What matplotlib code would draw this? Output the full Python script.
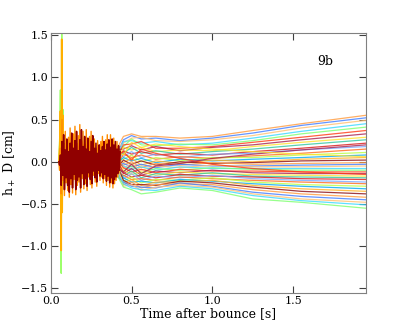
import numpy as np
import matplotlib
matplotlib.use("Agg")
import matplotlib.pyplot as plt

# ---- data ----
# early post-bounce burst: alternating upper / lower excursions (cm)
burst_t = np.arange(0.05, 0.4301, 0.005)
burst_hi = [0.00, 0.08, 0.24, 0.32, 0.14, 0.27, 0.12, 0.22, 0.34, 0.16, 0.25, 0.36,
            0.13, 0.26, 0.38, 0.18, 0.30, 0.15, 0.28, 0.12, 0.24, 0.31, 0.16, 0.22,
            0.10, 0.20, 0.13, 0.18, 0.24, 0.14, 0.21, 0.26, 0.17, 0.27, 0.20, 0.24,
            0.15, 0.19, 0.12]
burst_lo = [-0.04, -0.28, -0.16, -0.33, -0.19, -0.28, -0.36, -0.20, -0.31, -0.15,
            -0.33, -0.22, -0.18, -0.31, -0.14, -0.27, -0.20, -0.29, -0.13, -0.21,
            -0.26, -0.11, -0.19, -0.24, -0.10, -0.17, -0.13, -0.20, -0.15, -0.23,
            -0.17, -0.25, -0.19, -0.26, -0.21, -0.18, -0.14, -0.10]
burst2_hi = [0.00, 0.16, 0.50, 0.22, 0.36, 0.18, 0.29, 0.40, 0.21, 0.33, 0.42, 0.22,
             0.31, 0.44, 0.25, 0.36, 0.21, 0.38, 0.19, 0.30, 0.36, 0.22, 0.27, 0.16,
             0.25, 0.18, 0.24, 0.30, 0.19, 0.26, 0.32, 0.22, 0.32, 0.25, 0.28, 0.20,
             0.24, 0.16, 0.10]
burst2_lo = [-0.10, -0.38, -0.22, -0.40, -0.25, -0.34, -0.42, -0.27, -0.37, -0.21,
             -0.39, -0.28, -0.24, -0.36, -0.20, -0.32, -0.26, -0.34, -0.18, -0.27,
             -0.31, -0.16, -0.24, -0.29, -0.14, -0.22, -0.18, -0.25, -0.20, -0.28,
             -0.22, -0.30, -0.25, -0.31, -0.26, -0.22, -0.18, -0.12]

# the big spike right after bounce
spike_t = [0.050, 0.056, 0.060, 0.063, 0.065, 0.068, 0.071, 0.075, 0.080, 0.086]
spike_green = [0.00, 0.30, 0.85, -0.45, -1.32, 1.53, -0.35, 0.62, -0.25, 0.00]
spike_orange = [0.00, 0.20, 0.60, -0.30, -1.05, 1.45, -0.60, 0.55, -0.15, 0.00]

# later, slowly diverging signals (one row per model)
late_t = [0.32, 0.36, 0.40, 0.45, 0.50, 0.56, 0.65, 0.80, 1.00, 1.25, 1.55, 1.95]
late_h = [
    [0.10, 0.18, 0.12, 0.30, 0.33, 0.30, 0.30, 0.28, 0.30, 0.37, 0.45, 0.55],
    [-0.05, 0.14, 0.05, 0.26, 0.31, 0.27, 0.28, 0.25, 0.28, 0.34, 0.43, 0.52],
    [0.08, 0.04, 0.15, 0.22, 0.28, 0.29, 0.25, 0.24, 0.26, 0.31, 0.40, 0.49],
    [0.12, 0.20, -0.02, 0.24, 0.25, 0.22, 0.24, 0.20, 0.22, 0.28, 0.36, 0.45],
    [-0.10, 0.06, 0.10, 0.18, 0.27, 0.20, 0.19, 0.21, 0.20, 0.25, 0.33, 0.41],
    [0.04, 0.15, 0.02, 0.20, 0.21, 0.24, 0.16, 0.16, 0.18, 0.23, 0.29, 0.37],
    [0.14, -0.02, 0.14, 0.15, 0.19, 0.14, 0.18, 0.13, 0.17, 0.20, 0.26, 0.33],
    [-0.06, 0.10, -0.05, 0.17, 0.14, 0.17, 0.12, 0.14, 0.13, 0.18, 0.23, 0.29],
    [0.02, 0.12, 0.08, 0.10, 0.17, 0.10, 0.13, 0.09, 0.12, 0.15, 0.20, 0.26],
    [0.09, -0.06, 0.00, 0.13, 0.09, 0.12, 0.08, 0.10, 0.08, 0.12, 0.16, 0.22],
    [-0.12, 0.08, 0.11, 0.06, 0.12, 0.05, 0.09, 0.05, 0.09, 0.10, 0.14, 0.18],
    [0.06, -0.10, -0.08, 0.09, 0.05, 0.08, 0.03, 0.06, 0.04, 0.07, 0.10, 0.15],
    [-0.02, 0.05, 0.04, 0.03, 0.08, 0.00, 0.05, 0.01, 0.05, 0.05, 0.08, 0.11],
    [0.11, -0.04, -0.03, 0.05, 0.01, 0.04, -0.01, 0.03, 0.01, 0.03, 0.05, 0.08],
    [-0.08, 0.02, 0.07, -0.01, 0.04, -0.04, 0.01, -0.02, 0.02, 0.00, 0.03, 0.05],
    [0.03, -0.12, -0.10, 0.02, -0.03, 0.01, -0.04, 0.00, -0.02, -0.01, 0.01, 0.02],
    [-0.09, 0.09, 0.02, -0.04, 0.00, -0.07, -0.02, -0.04, -0.01, -0.03, -0.02, -0.01],
    [0.07, -0.08, -0.06, -0.02, -0.06, -0.03, -0.07, -0.03, -0.05, -0.05, -0.04, -0.03],
    [-0.04, 0.03, 0.09, -0.08, -0.02, -0.10, -0.05, -0.07, -0.04, -0.06, -0.06, -0.05],
    [0.12, -0.14, -0.01, -0.05, -0.09, -0.06, -0.10, -0.06, -0.08, -0.08, -0.08, -0.08],
    [-0.01, 0.06, -0.12, -0.11, -0.05, -0.13, -0.08, -0.10, -0.07, -0.09, -0.10, -0.10],
    [-0.13, -0.03, 0.05, -0.07, -0.12, -0.09, -0.13, -0.09, -0.11, -0.11, -0.12, -0.12],
    [0.05, -0.15, -0.04, -0.14, -0.08, -0.16, -0.11, -0.13, -0.10, -0.13, -0.14, -0.14],
    [-0.07, 0.01, 0.01, -0.10, -0.15, -0.12, -0.16, -0.12, -0.14, -0.15, -0.16, -0.17],
    [0.09, -0.09, -0.09, -0.17, -0.11, -0.19, -0.14, -0.16, -0.13, -0.17, -0.18, -0.19],
    [-0.11, -0.01, 0.06, -0.13, -0.18, -0.16, -0.19, -0.15, -0.17, -0.18, -0.20, -0.21],
    [0.01, -0.16, -0.02, -0.20, -0.14, -0.22, -0.17, -0.19, -0.16, -0.20, -0.22, -0.24],
    [-0.14, -0.05, -0.11, -0.16, -0.21, -0.20, -0.22, -0.18, -0.20, -0.22, -0.24, -0.26],
    [0.06, -0.11, 0.03, -0.23, -0.18, -0.25, -0.21, -0.22, -0.19, -0.24, -0.27, -0.29],
    [-0.03, -0.18, -0.07, -0.19, -0.24, -0.23, -0.25, -0.21, -0.23, -0.26, -0.29, -0.32],
    [0.10, -0.07, -0.14, -0.25, -0.21, -0.28, -0.24, -0.24, -0.22, -0.28, -0.32, -0.35],
    [-0.09, -0.13, 0.00, -0.22, -0.27, -0.27, -0.28, -0.23, -0.25, -0.30, -0.35, -0.38],
    [0.04, -0.20, -0.05, -0.27, -0.24, -0.31, -0.27, -0.26, -0.27, -0.33, -0.38, -0.42],
    [-0.12, -0.09, -0.15, -0.24, -0.29, -0.30, -0.31, -0.25, -0.29, -0.36, -0.41, -0.45],
    [0.00, -0.17, 0.04, -0.29, -0.27, -0.34, -0.30, -0.28, -0.30, -0.38, -0.44, -0.48],
    [-0.06, -0.22, -0.08, -0.26, -0.31, -0.33, -0.34, -0.29, -0.32, -0.40, -0.46, -0.51],
    [0.08, -0.14, -0.12, -0.30, -0.33, -0.38, -0.36, -0.31, -0.34, -0.44, -0.48, -0.55],
    [-0.05, 0.11, 0.06, 0.12, 0.02, 0.15, 0.10, 0.04, -0.03, -0.08, -0.12, -0.15],
    [0.07, -0.04, -0.06, -0.12, -0.03, -0.14, -0.05, -0.02, 0.04, 0.09, 0.14, 0.20],
    [-0.10, 0.16, 0.13, 0.08, 0.23, 0.17, 0.21, 0.18, 0.15, 0.12, 0.09, 0.06],
]

line_colors = ["#ff9a3c", "#3f7bff", "#ffc070", "#38d8ff", "#7dff6e", "#ff3a12",
               "#a8204e", "#ffe22a", "#2fc6a0", "#d81818", "#78a8ff", "#ff6a1a",
               "#b8ff40", "#00a8f0", "#ffb020", "#8a0a10"]


def interleave(hi, lo):
    out = []
    for k, v in enumerate(hi):
        out.append(v)
        if k < len(lo):
            out.append(lo[k])
    return out


plt.rcParams["font.family"] = "DejaVu Serif"
plt.rcParams["mathtext.fontset"] = "dejavuserif"

fig = plt.figure(figsize=(4.07, 3.26), dpi=100)
ax = fig.add_axes([0.1246, 0.1003, 0.7747, 0.8000])

for i, row in enumerate(late_h):
    c = line_colors[i % len(line_colors)]
    ax.plot(late_t, row, color=c, lw=0.9, alpha=0.8)

ax.plot(spike_t, spike_green, color="#9cff6a", lw=1.0)
ax.plot(spike_t, spike_orange, color="#ffb000", lw=1.2)
ax.plot(burst_t, interleave(burst2_hi, burst2_lo), color="#ff8c00", lw=1.0)
ax.plot(burst_t, interleave(burst_hi, burst_lo), color="#900000", lw=1.1)

ax.set_xlim(0, 1.951)
ax.set_ylim(-1.557, 1.53)
ax.set_xticks([0, 0.5, 1.0, 1.5])
ax.set_yticks([-1.5, -1.0, -0.5, 0.0, 0.5, 1.0, 1.5])
ax.tick_params(direction="in", top=True, right=True, length=5, width=0.8,
               labelsize=8, color="#404040", pad=2)
for sp in ax.spines.values():
    sp.set_color("#808080")

ax.set_xlabel("Time after bounce [s]", fontsize=9, labelpad=1)
ax.set_ylabel(r"h$_+$ D [cm]", fontsize=9, labelpad=2)
ax.text(1.65, 1.19, "9b", fontsize=9, va="center")

fig.savefig("out.png", dpi=100)
